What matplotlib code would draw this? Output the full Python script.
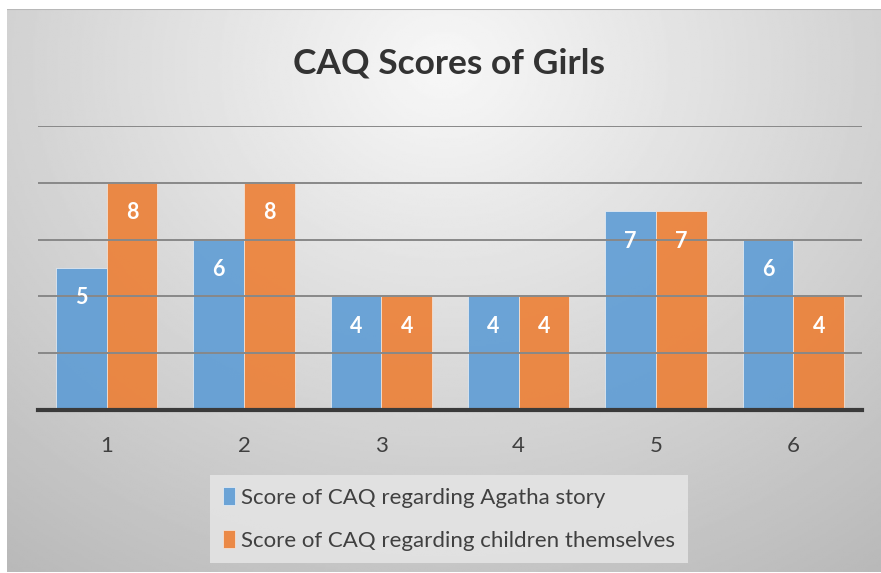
import numpy as np
import matplotlib.pyplot as plt

# data
categories = ["1", "2", "3", "4", "5", "6"]
agatha = [5, 6, 4, 4, 7, 6]
children = [8, 8, 4, 4, 7, 4]
series_names = ["Score of CAQ regarding Agatha story",
                "Score of CAQ regarding children themselves"]

plt.rcParams['font.family'] = ['Lato', 'DejaVu Sans']

fig = plt.figure(figsize=(8.81, 5.73), dpi=100)
fig.patch.set_facecolor('white')

# gradient background for the chart area
bg = fig.add_axes([7/881, 1/573, 874/881, 563/573])
bg.set_axis_off()
yy, xx = np.mgrid[0:1:300j, 0:1:450j]
r = np.sqrt(((xx - 0.5) / 0.75) ** 2 + ((yy - 0.1) / 1.0) ** 2)
shade = 0.97 - 0.22 * np.clip(r, 0, 1.2)
bg.imshow(shade, cmap='gray', vmin=0, vmax=1, aspect='auto',
          extent=[0, 1, 0, 1], origin='upper')
bg.axhline(1, color='#b8b8b8', lw=1.5)
bg.set_xlim(0, 1)
bg.set_ylim(0, 1)

# plot area: x 38..862, y 126..410 (pixels)
ax = fig.add_axes([38/881, (573-410)/573, (862-38)/881, (410-126)/573])
ax.patch.set_alpha(0)

x = np.arange(len(categories))
width = 0.37
b1 = ax.bar(x - width/2, agatha, width, color='#5B9BD5', alpha=0.88,
            label=series_names[0], zorder=2, edgecolor='#e8eef5', linewidth=0.6)
b2 = ax.bar(x + width/2, children, width, color='#ED7D31', alpha=0.88,
            label=series_names[1], zorder=2, edgecolor='#f5e6dc', linewidth=0.6)

for bars, vals in ((b1, agatha), (b2, children)):
    for rect, v in zip(bars, vals):
        ax.text(rect.get_x() + rect.get_width()/2, v - 1.05, str(v),
                ha='center', va='center', color='white', fontsize=15.5,
                fontweight='bold', zorder=3)

ax.set_xlim(-0.5, len(categories) - 0.5)
ax.set_ylim(0, 10)
ax.set_yticks([2, 4, 6, 8, 10])
ax.yaxis.grid(True, color='#888888', lw=1.4, zorder=1)
ax.set_axisbelow(False)
ax.tick_params(axis='y', left=False, labelleft=False)
ax.tick_params(axis='x', bottom=False, labelsize=16, labelcolor='#404040', pad=15)
ax.set_xticks(x)
ax.set_xticklabels(categories)
for s in ['top', 'right', 'left']:
    ax.spines[s].set_visible(False)
ax.spines['bottom'].set_color('#3a3a3a')
ax.spines['bottom'].set_linewidth(3)
ax.spines['bottom'].set_zorder(4)

fig.text(449/881, 1 - 64/573, "CAQ Scores of Girls", ha='center', va='center',
         fontsize=25.5, fontweight='bold', color='#333333')

leg = fig.legend(handles=[b1, b2], loc='center', bbox_to_anchor=(449/881, 1 - 519/573),
                 ncol=1, fontsize=16, frameon=True, handlelength=0.55, handleheight=0.85,
                 handletextpad=0.3, labelspacing=1.0, borderpad=0.55)
leg.get_frame().set_facecolor('#e4e4e4')
leg.get_frame().set_edgecolor('none')
leg.get_frame().set_alpha(0.9)
leg.get_frame().set_boxstyle('square', pad=0)
for t in leg.get_texts():
    t.set_color('#404040')

fig.savefig("out.png", dpi=100)
